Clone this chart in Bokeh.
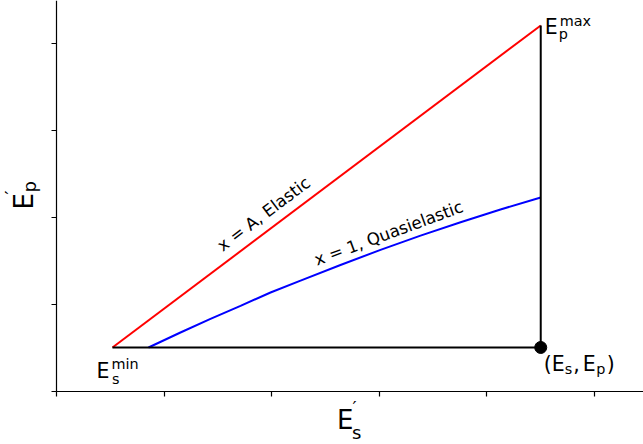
import math
import numpy as np
from bokeh.plotting import figure
from bokeh.models import Range1d, FixedTicker, Label
from bokeh.embed import file_html
from bokeh.resources import INLINE

# ---- data ----
x_ticks = [0, 1, 2, 3, 4, 5]
y_ticks = [0, 1, 2, 3, 4]
es_min = 0.52
es = 4.50
ep = 0.506
ep_max = 4.207
elastic_x = [es_min, es]
elastic_y = [ep, ep_max]
quasi_x = [0.855, 1.152, 1.431, 1.710, 1.989, 2.268, 2.639, 3.011, 3.383, 3.755, 4.126, 4.50]
quasi_y = [0.506, 0.678, 0.834, 0.985, 1.138, 1.274, 1.454, 1.628, 1.791, 1.946, 2.092, 2.230]
elastic_label = "x = A, Elastic"
quasi_label = "x = 1, Quasielastic"

FONT = "DejaVu Sans"
XMAX, YMAX = 5.455, 4.494
XMIN, YMIN = -0.5204, -0.6092

p = figure(width=643, height=444, output_backend="svg", toolbar_location=None,
           x_range=Range1d(XMIN, XMAX), y_range=Range1d(YMIN, YMAX))
p.min_border_left = 0
p.min_border_right = 0
p.min_border_top = 0
p.min_border_bottom = 0
p.outline_line_color = None
p.xgrid.visible = False
p.ygrid.visible = False
p.background_fill_color = "white"
p.border_fill_color = "white"

for ax, ticks, bnd in ((p.xaxis, x_ticks, (0, XMAX)), (p.yaxis, y_ticks, (0, YMAX))):
    ax.fixed_location = 0
    ax.bounds = bnd
    ax.ticker = FixedTicker(ticks=ticks)
    ax.major_label_overrides = {t: "" for t in ticks}
    ax.major_tick_out = 5
    ax.major_tick_in = 0
    ax.minor_tick_out = 0
    ax.minor_tick_in = 0
    ax.axis_line_width = 1.2
    ax.major_tick_line_width = 1.2
    ax.axis_line_color = "black"
    ax.major_tick_line_color = "black"

# lines
p.line(elastic_x, elastic_y, line_color="#ff0000", line_width=2)
p.line(quasi_x, quasi_y, line_color="#0000ff", line_width=2)
p.line([es_min, es], [ep, ep], line_color="black", line_width=2)
p.line([es, es], [ep, ep_max], line_color="black", line_width=2)
p.scatter([es], [ep], size=12, color="black")

K = 0.34  # empirical baseline correction (fraction of font size)

def lab(x, y, text, dx, dy, size, angle=0.0, align="left"):
    sh = K * size
    dx = dx - sh * math.sin(angle)
    dy = dy + sh * math.cos(angle)
    p.add_layout(Label(x=x, y=y, text=text, x_offset=dx, y_offset=dy,
                       text_font=FONT, text_font_size=f"{size}px",
                       text_color="black", text_baseline="alphabetic",
                       text_align=align, angle=angle))

MAIN, SCR = 20.5, 14.4
# E_s^min
lab(es_min, ep, "E", -16, -30, MAIN)
lab(es_min, ep, "min", -1, -21, SCR)
lab(es_min, ep, "s", -0.5, -36, SCR)
# E_p^max
lab(es, ep_max, "E", 4, -8, MAIN)
lab(es, ep_max, "max", 19, 0, SCR)
lab(es, ep_max, "p", 18, -13.5, SCR)
# (E_s,E_p)
lab(es, ep, "(", 3, -23, MAIN)
lab(es, ep, "E", 11, -23, MAIN)
lab(es, ep, "s", 24, -26.5, SCR)
lab(es, ep, ",", 32.5, -23, MAIN)
lab(es, ep, "E", 42, -23, MAIN)
lab(es, ep, "p", 55.5, -26.5, SCR)
lab(es, ep, ")", 66, -23, MAIN)

# rotated curve labels
xr = 1.956
yr = ep + (xr - es_min) * (ep_max - ep) / (es - es_min)
lab(xr, yr, elastic_label, 0, 13, 16.7, angle=math.radians(37), align="center")
xq = 3.104
yq = float(np.interp(xq, quasi_x, quasi_y))
lab(xq, yq, quasi_label, 0, 8, 16.7, angle=math.radians(20.3), align="center")

# axis labels
AX, AXS = 26, 18
xm = XMAX / 2
lab(xm, 0, "E", -13, -37, AX)
lab(xm, 0, "\u2032", 2.5, -22, AXS)
lab(xm, 0, "s", 2, -47, AXS)
ym = YMAX / 2
lab(0, ym, "E", -24, -13.5, AX, angle=math.pi / 2)
lab(0, ym, "\u2032", -39, 1.5, AXS, angle=math.pi / 2)
lab(0, ym, "p", -21, 3.5, AXS, angle=math.pi / 2)

open("out.html", "w").write(file_html(p, INLINE))
